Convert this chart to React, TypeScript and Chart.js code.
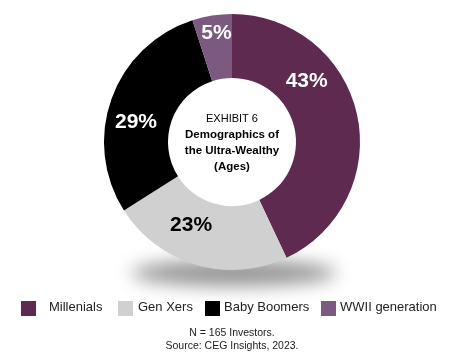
import React, { useEffect, useRef } from "react";
import { Chart, registerables } from "chart.js";

Chart.register(...registerables);

const categories = ["Millenials", "Gen Xers", "Baby Boomers", "WWII generation"];
const shares = [43, 23, 29, 5];
const sliceColors = ["#5f2a50", "#d0d0d0", "#000000", "#7c5a80"];
const labelColors = ["#ffffff", "#000000", "#ffffff", "#ffffff"];
const centerLines = ["EXHIBIT 6", "Demographics of", "the Ultra-Wealthy", "(Ages)"];
const footLines = ["N = 165 Investors.", "Source: CEG Insights, 2023."];

// style: where within each slice its label sits
const labelAngleFrac = [0.33, 0.62, 0.42, 0.55];
const labelRingFrac = [0.5, 0.45, 0.53, 0.72];
const legendBoxX = [21, 118, 205, 321];
const legendTextX = [49, 138, 224, 340];

const FONT = "'Liberation Sans', Arial, sans-serif";

const decorPlugin = {
  id: "decor",
  beforeDatasetsDraw(chart: any) {
    const ctx = chart.ctx;
    const meta = chart.getDatasetMeta(0);
    const arc = meta.data[0];
    if (!arc) return;
    const { x, y, outerRadius } = arc.getProps(["x", "y", "outerRadius"], true);
    ctx.save();
    ctx.filter = "blur(9px)";
    ctx.fillStyle = "rgba(0,0,0,0.42)";
    ctx.beginPath();
    ctx.ellipse(x + 2, y + outerRadius + 3, outerRadius * 0.8, 13, 0, 0, Math.PI * 2);
    ctx.fill();
    ctx.restore();
  },
  afterDraw(chart: any) {
    const ctx = chart.ctx;
    const meta = chart.getDatasetMeta(0);
    ctx.save();
    // slice labels
    meta.data.forEach((el: any, i: number) => {
      const p = el.getProps(["x", "y", "startAngle", "endAngle", "innerRadius", "outerRadius"], true);
      const a = p.startAngle + (p.endAngle - p.startAngle) * labelAngleFrac[i];
      const r = p.innerRadius + (p.outerRadius - p.innerRadius) * labelRingFrac[i];
      ctx.fillStyle = labelColors[i];
      ctx.font = `bold 21px ${FONT}`;
      ctx.textAlign = "center";
      ctx.textBaseline = "middle";
      ctx.fillText(shares[i] + "%", p.x + Math.cos(a) * r, p.y + Math.sin(a) * r);
    });
    // center text
    const c = meta.data[0].getProps(["x", "y"], true);
    ctx.fillStyle = "#000";
    ctx.textAlign = "center";
    ctx.textBaseline = "middle";
    ctx.font = `11px ${FONT}`;
    ctx.fillText(centerLines[0], c.x, c.y - 23);
    ctx.font = `bold 11.5px ${FONT}`;
    ctx.fillText(centerLines[1], c.x, c.y - 7);
    ctx.fillText(centerLines[2], c.x, c.y + 9);
    ctx.fillText(centerLines[3], c.x, c.y + 25);
    // legend
    ctx.textAlign = "left";
    ctx.font = `13px ${FONT}`;
    categories.forEach((name, i) => {
      ctx.fillStyle = sliceColors[i];
      ctx.fillRect(legendBoxX[i], 301, 15, 15);
      ctx.fillStyle = "#222";
      ctx.fillText(name, legendTextX[i], 307);
    });
    // footnote
    ctx.textAlign = "center";
    ctx.font = `10.5px ${FONT}`;
    ctx.fillStyle = "#222";
    ctx.fillText(footLines[0], 232, 333);
    ctx.fillText(footLines[1], 232, 346.5);
    ctx.restore();
  },
};

export default function App() {
  const ref = useRef<HTMLCanvasElement>(null);
  useEffect(() => {
    if (!ref.current) return;
    const chart = new Chart(ref.current, {
      type: "doughnut",
      data: {
        labels: categories,
        datasets: [
          {
            data: shares,
            backgroundColor: sliceColors,
            borderWidth: 0,
          },
        ],
      },
      options: {
        responsive: false,
        animation: false,
        cutout: "50%",
        layout: { padding: { top: 14, bottom: 89, left: 104, right: 90 } },
        plugins: { legend: { display: false }, tooltip: { enabled: false } },
      },
      plugins: [decorPlugin],
    });
    return () => chart.destroy();
  }, []);
  return (
    <div style={{ position: "absolute", left: 0, top: 0, width: 450, height: 359, background: "#fff" }}>
      <canvas ref={ref} width={450} height={359} style={{ width: 450, height: 359 }} />
    </div>
  );
}
